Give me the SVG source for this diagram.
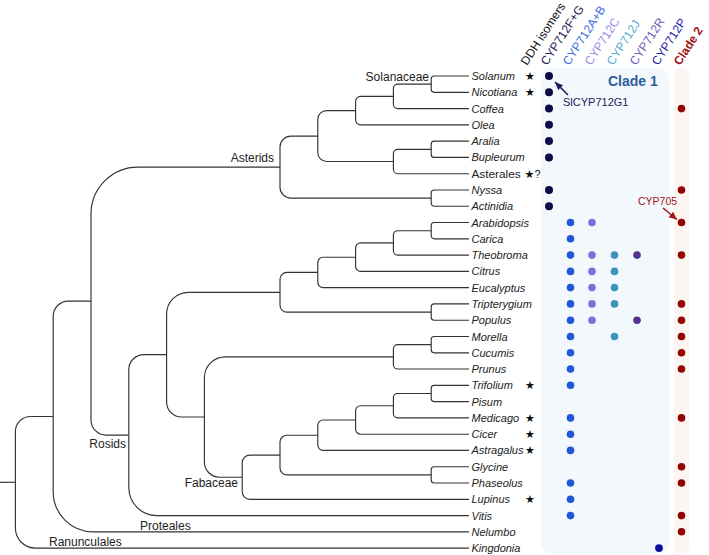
<svg xmlns="http://www.w3.org/2000/svg" width="709" height="555" viewBox="0 0 709 555">
<style>
.br{fill:none;stroke:#333;stroke-width:1.15}
.lf{font-family:"Liberation Sans",Arial,sans-serif;font-size:11px;font-style:italic;fill:#222}
.cl{font-family:"Liberation Sans",Arial,sans-serif;font-size:12px;fill:#222}
.st{font-family:"DejaVu Sans",sans-serif;font-size:11px;fill:#111;text-anchor:middle}
.hd{font-family:"Liberation Sans",Arial,sans-serif;font-size:12px}
.fg{fill:#0b0b45}.ab{fill:#1f57d6}.c{fill:#7a70da}.j{fill:#3a94bb}.r{fill:#4f358f}.p{fill:#0e0e9c}.c2{fill:#900404}
</style>
<defs>
<marker id="ahN" markerUnits="userSpaceOnUse" markerWidth="9" markerHeight="8" refX="8" refY="4" orient="auto"><path d="M0,0.5 L8,4 L0,7.5 Z" fill="#1c1c55"/></marker>
<marker id="ahR" markerUnits="userSpaceOnUse" markerWidth="9" markerHeight="8" refX="8" refY="4" orient="auto"><path d="M0,0.5 L8,4 L0,7.5 Z" fill="#a01515"/></marker>
</defs>
<g id="backgrounds">
<rect x="541" y="68" width="128" height="486" rx="10" fill="#f3f8fd"/>
<rect x="674" y="68" width="15" height="486" rx="7" fill="#fdf5f2"/>
</g>
<g id="headers" class="hd">
<text transform="translate(527,66) rotate(-57)" fill="#111">DDH isomers</text>
<text transform="translate(547,66) rotate(-57)" fill="#1a1a55">CYP712F+G</text>
<text transform="translate(569,66) rotate(-57)" fill="#3a6ee0">CYP712A+B</text>
<text transform="translate(591,66) rotate(-57)" fill="#968ce6">CYP712C</text>
<text transform="translate(613,66) rotate(-57)" fill="#55acd0">CYP712J</text>
<text transform="translate(636,66) rotate(-57)" fill="#6c5cb6">CYP712R</text>
<text transform="translate(658,66) rotate(-57)" fill="#2222a8">CYP712P</text>
<text transform="translate(680,66) rotate(-57)" fill="#a01010" font-weight="bold">Clade 2</text>
</g>
<g id="connectors">
<path class="br" d="M0 482.3H15.4"/>
<path class="br" d="M469 76H434.2A3 3 0 0 0 431.2 79V89.3A3 3 0 0 0 434.2 92.3H469"/>
<path class="br" d="M431.2 84.1H397.7A4.3 4.3 0 0 0 393.4 88.4V104.3A4.3 4.3 0 0 0 397.7 108.6H469"/>
<path class="br" d="M393.4 96.4H360.6A5 5 0 0 0 355.6 101.4V119.8A5 5 0 0 0 360.6 124.8H469"/>
<path class="br" d="M469 141.1H434.2A3 3 0 0 0 431.2 144.1V154.4A3 3 0 0 0 434.2 157.4H469"/>
<path class="br" d="M431.2 149.3H397.7A4.3 4.3 0 0 0 393.4 153.6V169.4A4.3 4.3 0 0 0 397.7 173.7H469"/>
<path class="br" d="M355.6 110.6H326.7A8.9 8.9 0 0 0 317.8 119.5V152.6A8.9 8.9 0 0 0 326.7 161.5H393.4"/>
<path class="br" d="M469 190H434.2A3 3 0 0 0 431.2 193V203.2A3 3 0 0 0 434.2 206.2H469"/>
<path class="br" d="M317.8 136.1H290.9A10.9 10.9 0 0 0 280 147V187.2A10.9 10.9 0 0 0 290.9 198.1H431.2"/>
<path class="br" d="M469 222.5H434.2A3 3 0 0 0 431.2 225.5V235.8A3 3 0 0 0 434.2 238.8H469"/>
<path class="br" d="M431.2 230.7H397.7A4.3 4.3 0 0 0 393.4 235V250.8A4.3 4.3 0 0 0 397.7 255.1H469"/>
<path class="br" d="M393.4 242.9H360.6A5 5 0 0 0 355.6 247.9V266.4A5 5 0 0 0 360.6 271.4H469"/>
<path class="br" d="M355.6 257.2H323.1A5.3 5.3 0 0 0 317.8 262.5V282.3A5.3 5.3 0 0 0 323.1 287.6H469"/>
<path class="br" d="M469 303.9H434.2A3 3 0 0 0 431.2 306.9V317.2A3 3 0 0 0 434.2 320.2H469"/>
<path class="br" d="M317.8 272.4H286.9A6.9 6.9 0 0 0 280 279.3V305.2A6.9 6.9 0 0 0 286.9 312.1H431.2"/>
<path class="br" d="M469 336.5H434.2A3 3 0 0 0 431.2 339.5V349.8A3 3 0 0 0 434.2 352.8H469"/>
<path class="br" d="M431.2 344.6H397.7A4.3 4.3 0 0 0 393.4 348.9V364.7A4.3 4.3 0 0 0 397.7 369H469"/>
<path class="br" d="M469 385.3H434.2A3 3 0 0 0 431.2 388.3V398.6A3 3 0 0 0 434.2 401.6H469"/>
<path class="br" d="M431.2 393.5H397.7A4.3 4.3 0 0 0 393.4 397.8V413.6A4.3 4.3 0 0 0 397.7 417.9H469"/>
<path class="br" d="M393.4 405.7H360.6A5 5 0 0 0 355.6 410.7V429.2A5 5 0 0 0 360.6 434.2H469"/>
<path class="br" d="M355.6 420H323.1A5.3 5.3 0 0 0 317.8 425.3V445.1A5.3 5.3 0 0 0 323.1 450.4H469"/>
<path class="br" d="M469 466.7H434.2A3 3 0 0 0 431.2 469.7V480A3 3 0 0 0 434.2 483H469"/>
<path class="br" d="M317.8 435.2H286.9A6.9 6.9 0 0 0 280 442.1V468A6.9 6.9 0 0 0 286.9 474.9H431.2"/>
<path class="br" d="M280 455.1H249.9A7.7 7.7 0 0 0 242.2 462.8V491.6A7.7 7.7 0 0 0 249.9 499.3H469"/>
<path class="br" d="M393.4 356.8H225.4A21 21 0 0 0 204.4 377.8V462.1A15.1 15.1 0 0 0 219.5 477.2H242.2"/>
<path class="br" d="M280 292.3H188.4A21.8 21.8 0 0 0 166.6 314.1V401.9A15.1 15.1 0 0 0 181.7 417H204.4"/>
<path class="br" d="M166.6 354.6H143.9A15.1 15.1 0 0 0 128.8 369.7V487.6A28 28 0 0 0 156.8 515.6H469"/>
<path class="br" d="M280 167.1H138A47 47 0 0 0 91 214.1V420A15.1 15.1 0 0 0 106.1 435.1H128.8"/>
<path class="br" d="M91 301.1H68.3A15.1 15.1 0 0 0 53.2 316.2V491.8A40 40 0 0 0 93.2 531.8H469"/>
<path class="br" d="M53.2 416.5H30.5A15.1 15.1 0 0 0 15.4 431.6V528.1A20 20 0 0 0 35.4 548.1H469"/>
<line x1="568" y1="95" x2="555" y2="82" stroke="#1c1c55" stroke-width="1.6" marker-end="url(#ahN)"/>
<line x1="663" y1="208" x2="677" y2="219.5" stroke="#a01515" stroke-width="1.6" marker-end="url(#ahR)"/>
</g>
<g id="clade-labels" class="cl">
<text x="429" y="81" text-anchor="end">Solanaceae</text>
<text x="274" y="161.5" text-anchor="end">Asterids</text>
<text x="126" y="448" text-anchor="end">Rosids</text>
<text x="238" y="487" text-anchor="end">Fabaceae</text>
<text x="140" y="529.5">Proteales</text>
<text x="49" y="545.5">Ranunculales</text>
</g>
<g id="leaves" class="lf">
<text x="471.5" y="80">Solanum</text>
<text x="471.5" y="96.3">Nicotiana</text>
<text x="471.5" y="112.6">Coffea</text>
<text x="471.5" y="128.8">Olea</text>
<text x="471.5" y="145.1">Aralia</text>
<text x="471.5" y="161.4">Bupleurum</text>
<text x="471.5" y="178" font-style="normal" font-size="11.8">Asterales</text>
<text x="471.5" y="194">Nyssa</text>
<text x="471.5" y="210.2">Actinidia</text>
<text x="471.5" y="226.5">Arabidopsis</text>
<text x="471.5" y="242.8">Carica</text>
<text x="471.5" y="259.1">Theobroma</text>
<text x="471.5" y="275.4">Citrus</text>
<text x="471.5" y="291.6">Eucalyptus</text>
<text x="471.5" y="307.9">Tripterygium</text>
<text x="471.5" y="324.2">Populus</text>
<text x="471.5" y="340.5">Morella</text>
<text x="471.5" y="356.8">Cucumis</text>
<text x="471.5" y="373">Prunus</text>
<text x="471.5" y="389.3">Trifolium</text>
<text x="471.5" y="405.6">Pisum</text>
<text x="471.5" y="421.9">Medicago</text>
<text x="471.5" y="438.2">Cicer</text>
<text x="471.5" y="454.4">Astragalus</text>
<text x="471.5" y="470.7">Glycine</text>
<text x="471.5" y="487">Phaseolus</text>
<text x="471.5" y="503.3">Lupinus</text>
<text x="471.5" y="519.6">Vitis</text>
<text x="471.5" y="535.8">Nelumbo</text>
<text x="471.5" y="552.1">Kingdonia</text>
</g>
<g id="stars" class="st">
<text x="530" y="80">★</text>
<text x="530" y="96.3">★</text>
<text x="524.5" y="178" text-anchor="start">★<tspan font-family="Liberation Sans,Arial,sans-serif" font-size="11px">?</tspan></text>
<text x="530" y="389.3">★</text>
<text x="530" y="421.9">★</text>
<text x="530" y="438.2">★</text>
<text x="530" y="454.4">★</text>
<text x="530" y="503.3">★</text>
</g>
<g id="dots-FG" class="fg">
<circle cx="549" cy="76" r="4"/><circle cx="549" cy="92.3" r="4"/><circle cx="549" cy="108.6" r="4"/><circle cx="549" cy="124.8" r="4"/><circle cx="549" cy="141.1" r="4"/><circle cx="549" cy="157.4" r="4"/><circle cx="549" cy="190" r="4"/><circle cx="549" cy="206.2" r="4"/>
</g>
<g id="dots-AB" class="ab">
<circle cx="570.5" cy="222.5" r="3.8"/><circle cx="570.5" cy="238.8" r="3.8"/><circle cx="570.5" cy="255.1" r="3.8"/><circle cx="570.5" cy="271.4" r="3.8"/><circle cx="570.5" cy="287.6" r="3.8"/><circle cx="570.5" cy="303.9" r="3.8"/><circle cx="570.5" cy="320.2" r="3.8"/><circle cx="570.5" cy="336.5" r="3.8"/><circle cx="570.5" cy="352.8" r="3.8"/><circle cx="570.5" cy="369" r="3.8"/><circle cx="570.5" cy="385.3" r="3.8"/><circle cx="570.5" cy="417.9" r="3.8"/><circle cx="570.5" cy="434.2" r="3.8"/><circle cx="570.5" cy="450.4" r="3.8"/><circle cx="570.5" cy="483" r="3.8"/><circle cx="570.5" cy="499.3" r="3.8"/><circle cx="570.5" cy="515.6" r="3.8"/>
</g>
<g id="dots-C" class="c">
<circle cx="592" cy="222.5" r="3.8"/><circle cx="592" cy="255.1" r="3.8"/><circle cx="592" cy="271.4" r="3.8"/><circle cx="592" cy="287.6" r="3.8"/><circle cx="592" cy="303.9" r="3.8"/><circle cx="592" cy="320.2" r="3.8"/>
</g>
<g id="dots-J" class="j">
<circle cx="614.5" cy="255.1" r="3.8"/><circle cx="614.5" cy="271.4" r="3.8"/><circle cx="614.5" cy="287.6" r="3.8"/><circle cx="614.5" cy="303.9" r="3.8"/><circle cx="614.5" cy="336.5" r="3.8"/>
</g>
<g id="dots-R" class="r">
<circle cx="637" cy="255.1" r="3.8"/><circle cx="637" cy="320.2" r="3.8"/>
</g>
<g id="dots-P" class="p">
<circle cx="659" cy="548.1" r="3.9"/>
</g>
<g id="dots-clade2" class="c2">
<circle cx="681.5" cy="108.6" r="3.8"/><circle cx="681.5" cy="190" r="3.8"/><circle cx="681.5" cy="222.5" r="3.8"/><circle cx="681.5" cy="255.1" r="3.8"/><circle cx="681.5" cy="303.9" r="3.8"/><circle cx="681.5" cy="320.2" r="3.8"/><circle cx="681.5" cy="336.5" r="3.8"/><circle cx="681.5" cy="352.8" r="3.8"/><circle cx="681.5" cy="369" r="3.8"/><circle cx="681.5" cy="417.9" r="3.8"/><circle cx="681.5" cy="466.7" r="3.8"/><circle cx="681.5" cy="483" r="3.8"/><circle cx="681.5" cy="515.6" r="3.8"/><circle cx="681.5" cy="531.8" r="3.8"/>
</g>
<g id="annotations">
<text x="608" y="86" font-family="Liberation Sans,Arial,sans-serif" font-size="14px" font-weight="bold" fill="#2b5d9b">Clade 1</text>
<text x="563" y="106" font-family="Liberation Sans,Arial,sans-serif" font-size="11px" fill="#1c1c55">SlCYP712G1</text>
<text x="638" y="205" font-family="Liberation Sans,Arial,sans-serif" font-size="10.5px" fill="#a01515">CYP705</text>
</g>
</svg>
